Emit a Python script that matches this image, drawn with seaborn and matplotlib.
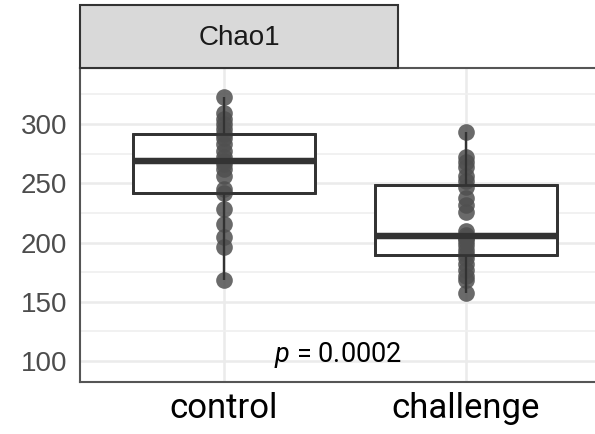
import pandas as pd
import numpy as np
import matplotlib.pyplot as plt
import seaborn as sns
from matplotlib.patches import Rectangle
from matplotlib.ticker import MultipleLocator

sns.set_style('white')
plt.rcParams['mathtext.fontset'] = 'custom'
plt.rcParams['mathtext.it'] = 'Roboto:italic'
plt.rcParams['mathtext.rm'] = 'Roboto'

# values
groups = ['control', 'challenge']
control_vals = [168, 196, 205, 216, 228, 242, 245, 256, 262, 266, 269,
                272, 277, 283, 288, 292, 296, 300, 304, 309, 323]
challenge_vals = [157, 168, 172, 177, 182, 187, 190, 194, 198, 201, 204, 205,
                  206, 210, 226, 232, 238, 247, 252, 256, 264, 268, 272, 293]
y_ticks = [100, 150, 200, 250, 300]
facet_label = 'Chao1'
p_label = r'$p$ = 0.0002'

df = pd.DataFrame({
    'group': ['control'] * len(control_vals) + ['challenge'] * len(challenge_vals),
    'value': control_vals + challenge_vals,
})

fig = plt.figure(figsize=(5.95, 4.34), dpi=100)
ax = fig.add_axes([80/595, 1 - 382/434, 515/595, 314/434])

line_col = '#333333'
box_kw = dict(data=df, x='group', y='value', order=groups, width=0.75,
              whis=1.5, showfliers=False, linecolor=line_col, linewidth=2,
              whiskerprops=dict(linewidth=1.6, color=line_col),
              capprops=dict(linewidth=0),
              medianprops=dict(linewidth=4.5, color=line_col))

# white box underneath, points, then outline on top (like ggplot layers)
sns.boxplot(color='white', ax=ax, zorder=1, **box_kw)
sns.stripplot(data=df, x='group', y='value', order=groups, jitter=False,
              color='#505050', alpha=0.85, size=12, linewidth=0, ax=ax, zorder=2)
sns.boxplot(fill=False, color=line_col, ax=ax, zorder=3, **box_kw)

ax.set_xlim(-0.595, 1.533)
ax.set_ylim(82.3, 347.3)
ax.set_yticks(y_ticks)
ax.yaxis.set_minor_locator(MultipleLocator(25))
ax.grid(True, which='major', color='#ebebeb', linewidth=1.8, zorder=0)
ax.grid(True, which='minor', axis='y', color='#efefef', linewidth=1.2, zorder=0)
ax.set_axisbelow(True)

for side in ['left', 'bottom', 'top']:
    ax.spines[side].set_color('#555555')
    ax.spines[side].set_linewidth(1.5)
ax.spines['right'].set_visible(False)

ax.tick_params(axis='y', which='major', length=6, width=1.5, color='#333333',
               labelsize=20, labelcolor='#4d4d4d', pad=3)
ax.tick_params(axis='y', which='minor', length=0)
ax.tick_params(axis='x', length=0, labelsize=25, labelcolor='black', pad=7)
for lab in ax.get_yticklabels():
    lab.set_family('Liberation Sans')
for lab in ax.get_xticklabels():
    lab.set_family('Roboto')
ax.set_xlabel('')
ax.set_ylabel('')

ax.text(0.471, 99, p_label, ha='center', va='baseline', fontsize=19.5,
        family='Roboto', color='black')

# facet strip
strip = Rectangle((80/595, 1 - 68/434), 318/595, 63/434, transform=fig.transFigure,
                  facecolor='#d9d9d9', edgecolor='#333333', linewidth=1.5)
fig.patches.append(strip)
fig.text(239/595, 1 - 38/434, facet_label, ha='center', va='center',
         fontsize=20, family='Liberation Sans', color='#1a1a1a')

fig.savefig('out.png', dpi=100)
